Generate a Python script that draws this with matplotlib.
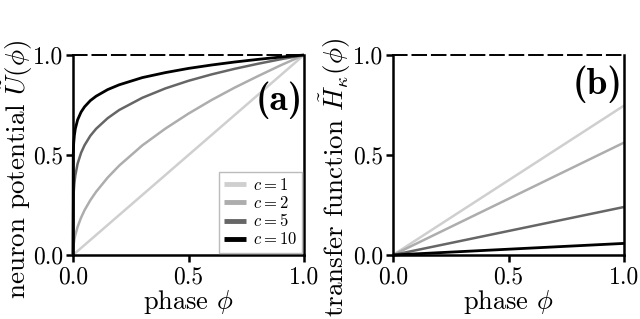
import matplotlib
matplotlib.use("Agg")
import matplotlib.pyplot as plt
from matplotlib.font_manager import FontProperties

plt.rcParams['font.family'] = 'serif'
plt.rcParams['font.serif'] = ['cmr10', 'DejaVu Serif']
plt.rcParams['mathtext.fontset'] = 'cm'
plt.rcParams['axes.formatter.use_mathtext'] = True

# ---- data ----
c_labels = [r'$c=1$', r'$c=2$', r'$c=5$', r'$c=10$']
colors = ['#cfcfcf', '#adadad', '#666666', '#000000']

phi_diag = [0.0, 1.0]
U_c1 = [0.0, 1.0]

phi_grid = [0.0, 0.001, 0.003, 0.006, 0.01, 0.02, 0.035, 0.05, 0.075, 0.1,
            0.15, 0.2, 0.3, 0.4, 0.5, 0.6, 0.7, 0.8, 0.9, 1.0]
U_c2 = [0.0, 0.032, 0.055, 0.077, 0.100, 0.141, 0.187, 0.224, 0.274, 0.316,
        0.387, 0.447, 0.548, 0.632, 0.707, 0.775, 0.837, 0.894, 0.949, 1.0]
U_c5 = [0.0, 0.251, 0.313, 0.359, 0.398, 0.457, 0.511, 0.549, 0.596, 0.631,
        0.684, 0.725, 0.786, 0.833, 0.871, 0.903, 0.931, 0.956, 0.979, 1.0]
U_c10 = [0.0, 0.501, 0.559, 0.599, 0.631, 0.676, 0.715, 0.741, 0.772, 0.794,
         0.827, 0.851, 0.887, 0.912, 0.933, 0.950, 0.965, 0.978, 0.990, 1.0]

phi_line = [0.0, 1.0]
H_c1 = [0.0, 0.747]
H_c2 = [0.0, 0.562]
H_c5 = [0.0, 0.240]
H_c10 = [0.0, 0.058]

ticks = [0.0, 0.5, 1.0]
tick_labels = ['0.0', '0.5', '1.0']

# ---- figure ----
fig = plt.figure(figsize=(6.4, 3.19), dpi=100)
W, H = 640.0, 319.0
axA = fig.add_axes([73 / W, 1 - 255 / H, 231 / W, 200 / H])
axB = fig.add_axes([393 / W, 1 - 255 / H, 231 / W, 200 / H])

lws = [1.8, 1.8, 1.8, 2.0]
xs_a = [phi_diag, phi_grid, phi_grid, phi_grid]
ys_a = [U_c1, U_c2, U_c5, U_c10]
for x, y, col, lab, lw in zip(xs_a, ys_a, colors, c_labels, lws):
    axA.plot(x, y, color=col, lw=lw, label=lab, solid_capstyle='butt', clip_on=False)

ys_b = [H_c1, H_c2, H_c5, H_c10]
for y, col, lw in zip(ys_b, colors, lws):
    axB.plot(phi_line, y, color=col, lw=lw, solid_capstyle='butt', clip_on=False)

for ax in (axA, axB):
    ax.set_xlim(0, 1)
    ax.set_ylim(0, 1)
    ax.set_xticks(ticks)
    ax.set_xticklabels(tick_labels)
    ax.set_yticks(ticks)
    ax.set_yticklabels(tick_labels)
    ax.tick_params(direction='out', length=5, width=1.8, labelsize=17, pad=2)
    ax.tick_params(axis='x', pad=3)
    for s in ('left', 'bottom', 'right'):
        ax.spines[s].set_linewidth(1.8)
    ax.spines['top'].set_linewidth(1.4)
    ax.spines['top'].set_linestyle((0, (7, 3)))
    ax.set_xlabel(r'phase $\phi$', fontsize=19, labelpad=0)

axA.set_ylabel(r'neuron potential $\tilde{U}(\phi)$', fontsize=19.5)
axA.yaxis.set_label_coords(-0.165, 0.43)
axB.set_ylabel(r'transfer function $\tilde{H}_{\kappa}(\phi)$', fontsize=19.5)
axB.yaxis.set_label_coords(-0.175, 0.39)

bold = FontProperties(family='cmb10', size=27)
axA.text(0.995, 0.775, '(a)', transform=axA.transAxes, ha='right', va='center',
         fontproperties=bold)
axB.text(0.995, 0.855, '(b)', transform=axB.transAxes, ha='right', va='center',
         fontproperties=bold)

leg = axA.legend(loc='lower right', fontsize=12, handlelength=1.3, handletextpad=0.4,
                 labelspacing=0.12, borderpad=0.3, borderaxespad=0.15,
                 fancybox=False, framealpha=1.0)
leg.get_frame().set_edgecolor('#bbbbbb')
leg.get_frame().set_linewidth(1.0)
for h in leg.get_lines():
    h.set_linewidth(3.5)

fig.savefig('out.png', dpi=100)
